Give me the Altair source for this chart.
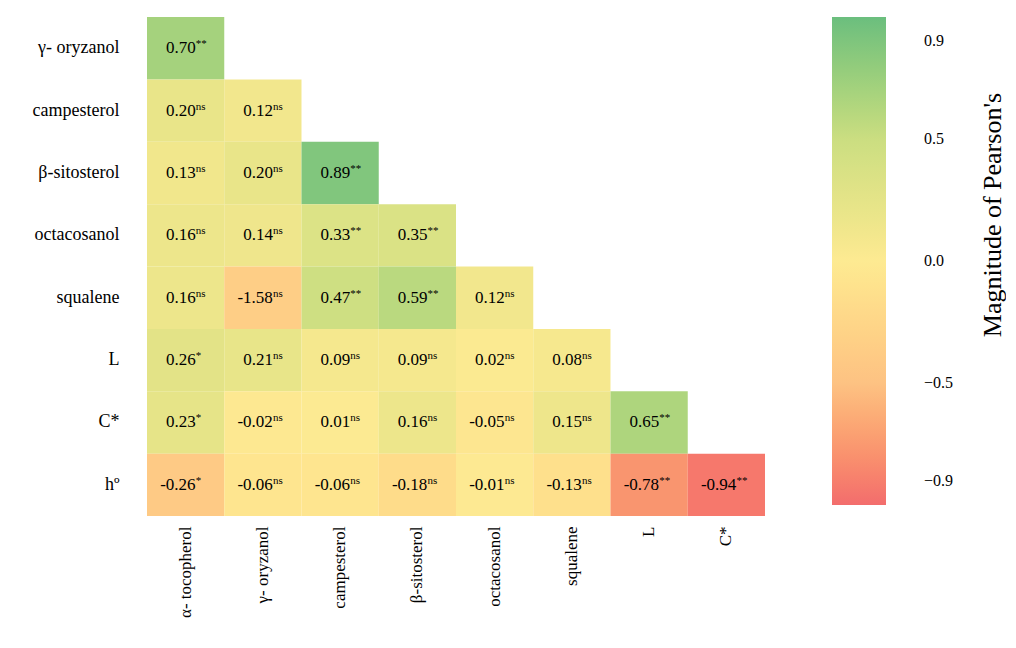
import altair as alt
import pandas as pd

COLS = ["α- tocopherol", "γ- oryzanol", "campesterol", "β-sitosterol",
        "octacosanol", "squalene", "L", "C*"]
ROWS = ["γ- oryzanol", "campesterol", "β-sitosterol", "octacosanol",
        "squalene", "L", "C*", "hº"]

VALUES = [
    [0.70],
    [0.20, 0.12],
    [0.13, 0.20, 0.89],
    [0.16, 0.14, 0.33, 0.35],
    [0.16, -1.58, 0.47, 0.59, 0.12],
    [0.26, 0.21, 0.09, 0.09, 0.02, 0.08],
    [0.23, -0.02, 0.01, 0.16, -0.05, 0.15, 0.65],
    [-0.26, -0.06, -0.06, -0.18, -0.01, -0.13, -0.78, -0.94],
]
SIG = [
    ["**"],
    ["ns", "ns"],
    ["ns", "ns", "**"],
    ["ns", "ns", "**", "**"],
    ["ns", "ns", "**", "**", "ns"],
    ["*", "ns", "ns", "ns", "ns", "ns"],
    ["*", "ns", "ns", "ns", "ns", "ns", "**"],
    ["*", "ns", "ns", "ns", "ns", "ns", "**", "**"],
]
SHADE_OVERRIDE = {("squalene", "γ- oryzanol"): -0.35, ("hº", "α- tocopherol"): -0.4}

records = []
for r, row in enumerate(ROWS):
    for c, v in enumerate(VALUES[r]):
        records.append({
            "row": row, "col": COLS[c], "value": v,
            "label": f"{v:.2f}", "sig": SIG[r][c],
            "shade": SHADE_OVERRIDE.get((row, COLS[c]), v),
        })
df = pd.DataFrame(records)

FONT = "Liberation Serif"
color_scale = alt.Scale(
    domain=[-1, -0.5, 0, 0.5, 1],
    range=["#f26565", "#fdbf7c", "#fde98c", "#c8dc7a", "#63bb77"],
)

x = alt.X("col:N", sort=COLS, title=None,
          axis=alt.Axis(labelAngle=-90, domain=False, ticks=False, labelFont=FONT,
                        labelFontSize=17, labelColor="black", labelPadding=10,
                        labelBaseline="middle", labelAlign="right"))
y = alt.Y("row:N", sort=ROWS, title=None,
          axis=alt.Axis(domain=False, ticks=False, labelFont=FONT, labelFontSize=18,
                        labelColor="black", labelPadding=28))

base = alt.Chart(df).encode(x=x, y=y)

rects = base.mark_rect(opacity=0.95).encode(
    color=alt.Color("shade:Q", scale=color_scale,
                    legend=alt.Legend(orient="none", legendX=685, legendY=0,
                                      gradientLength=488, gradientThickness=54,
                                      title=None, values=[0.9, 0.5, 0, -0.5, -0.9],
                                      labelFont=FONT, labelFontSize=16,
                                      labelColor="black", labelOffset=38,
                                      format=".1f", direction="vertical")),
)
vals = base.mark_text(font=FONT, fontSize=17, align="right", dx=10, color="black").encode(
    text="label:N")
sigs = base.mark_text(font=FONT, fontSize=11, align="left", dx=10, dy=-4, color="black").encode(
    text="sig:N")

title = alt.Chart(pd.DataFrame({"t": ["Magnitude of Pearson's"]})).mark_text(
    font=FONT, fontSize=26, angle=270, color="black"
).encode(x=alt.value(846), y=alt.value(198), text="t:N")

chart = (rects + vals + sigs + title).properties(
    width=618, height=499, padding={"left": 24, "top": 9, "right": 0, "bottom": 0}
).configure_view(strokeWidth=0)
chart.save("out.html", embed_options={"renderer": "svg", "actions": False})
